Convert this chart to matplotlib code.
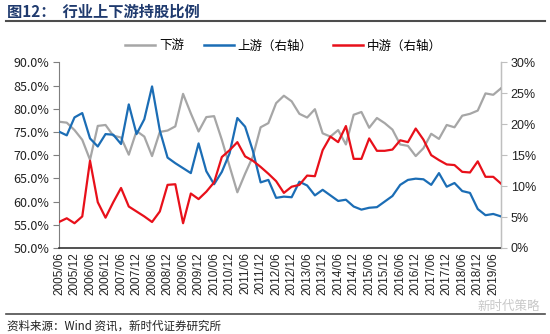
"""行业上下游持股比例 -- downstream on the left axis, upstream/midstream on the right."""
import matplotlib
matplotlib.use("Agg")
import matplotlib.pyplot as plt
import numpy as np
from matplotlib.lines import Line2D

plt.rcParams['font.family'] = ['Noto Sans CJK SC', 'DejaVu Sans']

# quarterly, 2005/06 .. 2019/09
downstream = [77.2, 77.0, 75.4, 73.3, 69.0, 76.3, 76.5, 74.2, 73.8, 70.1,
              75.2, 74.0, 69.8, 75.0, 75.3, 76.2, 83.2, 79.0, 75.1, 78.2,
              78.4, 73.3, 67.6, 62.0, 66.0, 69.7, 76.0, 76.9, 81.2, 82.8,
              81.6, 78.9, 78.1, 79.9, 74.7, 74.0, 75.4, 72.3, 78.7, 79.3,
              75.9, 78.0, 76.9, 75.5, 72.3, 72.0, 69.8, 71.5, 74.6, 73.5,
              76.5, 76.0, 78.5, 78.9, 79.6, 83.3, 83.0, 84.4]
upstream = [18.8, 18.2, 21.1, 21.8, 17.7, 16.4, 18.4, 18.3, 16.8, 23.2,
            18.4, 20.8, 26.1, 19.0, 14.6, 13.7, 12.9, 12.1, 16.9, 12.4,
            10.3, 12.3, 15.3, 21.0, 19.6, 15.7, 10.6, 11.0, 8.1, 8.3,
            8.2, 10.7, 10.1, 8.5, 9.4, 8.5, 7.6, 7.8, 6.7, 6.2,
            6.5, 6.6, 7.5, 8.4, 10.2, 11.0, 11.2, 11.1, 10.2, 12.1,
            9.9, 10.5, 9.2, 8.9, 6.3, 5.3, 5.5, 5.1]
midstream = [4.2, 4.8, 4.0, 5.1, 14.1, 7.4, 4.9, 7.4, 9.7, 6.7,
             5.9, 5.1, 4.2, 5.9, 10.2, 10.3, 4.0, 8.8, 7.9, 9.1,
             10.6, 14.7, 15.8, 17.1, 14.8, 14.1, 13.1, 12.0, 10.8, 8.9,
             9.9, 10.2, 11.7, 11.6, 15.8, 18.0, 17.1, 19.7, 14.4, 14.4,
             17.7, 15.7, 15.7, 15.9, 17.4, 17.1, 19.3, 17.5, 15.0, 14.2,
             13.5, 13.4, 12.3, 12.2, 14.0, 11.5, 11.5, 10.4]
tick_labels = ["2005/06", "2005/12", "2006/06", "2006/12", "2007/06", "2007/12",
               "2008/06", "2008/12", "2009/06", "2009/12", "2010/06", "2010/12",
               "2011/06", "2011/12", "2012/06", "2012/12", "2013/06", "2013/12",
               "2014/06", "2014/12", "2015/06", "2015/12", "2016/06", "2016/12",
               "2017/06", "2017/12", "2018/06", "2018/12", "2019/06"]
left_ticks = [50, 55, 60, 65, 70, 75, 80, 85, 90]
right_ticks = [0, 5, 10, 15, 20, 25, 30]

GRAY, BLUE, RED = "#A6A6A6", "#1B6DB5", "#E8101A"
W, H = 550, 334

fig = plt.figure(figsize=(5.5, 3.34), dpi=100)
ax = fig.add_axes([59 / W, 1 - 248 / H, (501 - 59) / W, (248 - 62.3) / H])
ax2 = ax.twinx()

x = np.arange(len(downstream))
ax.plot(x, downstream, color=GRAY, lw=1.6, solid_joinstyle="round")
ax2.plot(x, upstream, color=BLUE, lw=1.6, solid_joinstyle="round")
ax2.plot(x, midstream, color=RED, lw=1.6, solid_joinstyle="round")

ax.set_xlim(0, len(downstream) - 1)
ax.set_ylim(50, 90)
ax2.set_ylim(0, 30)
ax.set_yticks(left_ticks)
ax.set_yticklabels([f"{v:.1f}%" for v in left_ticks], fontsize=9, color="#222222")
ax2.set_yticks(right_ticks)
ax2.set_yticklabels([f"{v}%" for v in right_ticks], fontsize=9, color="#222222",
                    family="Liberation Sans")
ax.set_xticks(np.arange(0, len(downstream), 2))
ax.set_xticklabels(tick_labels, rotation=90, fontsize=8.5, family="Liberation Sans",
                   color="#222222")

for a in (ax, ax2):
    a.spines["top"].set_visible(False)
ax.spines["left"].set_color("#7F7F7F")
ax.spines["bottom"].set_color("#333333")
ax.spines["bottom"].set_linewidth(1.2)
ax2.spines["right"].set_color("#BFBFBF")
ax2.spines["left"].set_visible(False)
ax2.spines["bottom"].set_visible(False)
ax.tick_params(axis="y", length=4, color="#7F7F7F", pad=3)
ax.tick_params(axis="x", length=0, pad=3)
ax2.tick_params(axis="y", length=4, color="#BFBFBF", pad=3)

handles = [Line2D([], [], color=GRAY, lw=1.8),
           Line2D([], [], color=BLUE, lw=1.8),
           Line2D([], [], color=RED, lw=1.8)]
fig.legend(handles, ["下游", "上游（右轴）", "中游（右轴）"], loc="center",
           bbox_to_anchor=(0.515, 1 - 46 / H), ncol=3, frameon=False,
           fontsize=9, handlelength=2.4, columnspacing=1.6, handletextpad=0.3)

fig.text(7 / W, 1 - 12 / H, "图12：  行业上下游持股比例", fontsize=11,
         fontweight="bold", color="#1F3A6E", va="center", ha="left")
fig.add_artist(Line2D([6 / W, 545 / W], [1 - 21 / H, 1 - 21 / H],
                      color="#4D4D4D", lw=1.5))
fig.add_artist(Line2D([6 / W, 545 / W], [1 - 314 / H, 1 - 314 / H],
                      color="#4D4D4D", lw=1.2))
fig.text(7 / W, 1 - 326 / H, "资料来源：Wind 资讯，新时代证券研究所", fontsize=8.3,
         color="#222222", va="center", ha="left")
fig.text(540 / W, 1 - 306 / H, "新时代策略", fontsize=9, color="#C8C8C8",
         va="center", ha="right")

fig.savefig("out.png", dpi=100)
